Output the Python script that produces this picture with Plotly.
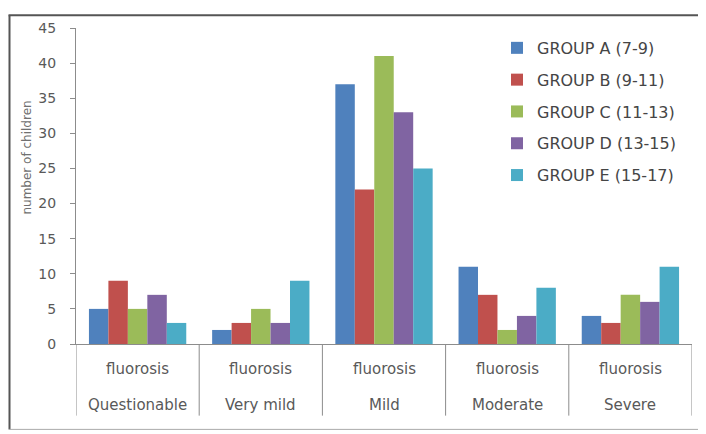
import plotly.graph_objects as go

categories = ["Questionable", "Very mild", "Mild", "Moderate", "Severe"]
top_label = "fluorosis"
series_names = ["GROUP A (7-9)", "GROUP B (9-11)", "GROUP C (11-13)", "GROUP D (13-15)", "GROUP E (15-17)"]
group_a = [5, 2, 37, 11, 4]
group_b = [9, 3, 22, 7, 3]
group_c = [5, 5, 41, 2, 7]
group_d = [7, 3, 33, 4, 6]
group_e = [3, 9, 25, 8, 11]
colors = ["#4F81BD", "#C0504D", "#9BBB59", "#8064A2", "#4BACC6"]
y_ticks = [0, 5, 10, 15, 20, 25, 30, 35, 40, 45]

# the page body has an 8px margin, so the figure is placed 8px in from the window corner
OFF = 8
W, H = 706 - OFF, 434 - OFF
PL, PR, PT, PB = 76, 692, 22, 344   # plot area in window pixels
ML, MT = PL - OFF, PT - OFF
MR = W - (PR - OFF)
MB = H - (PB - OFF)
PW = PR - PL
PH = PB - PT

def px_x(p):
    return (p - PL) / PW

def px_y(p):
    return (PB - p) / PH

FONT = "DejaVu Sans"
TXT = "#595959"
AX = "#8C8C8C"

fig = go.Figure()
for name, vals, col in zip(series_names, [group_a, group_b, group_c, group_d, group_e], colors):
    fig.add_trace(go.Bar(x=categories, y=vals, name=name, marker=dict(color=col, line=dict(width=0)),
                         legendgroup=name))

fig.update_layout(
    width=W, height=H,
    margin=dict(l=ML, r=MR, t=MT, b=MB),
    paper_bgcolor="white", plot_bgcolor="white",
    barmode="group", bargap=0.21, bargroupgap=0,
    font=dict(family=FONT, color=TXT),
    showlegend=True,
    legend=dict(x=px_x(497), xanchor="left", y=px_y(25), yanchor="top",
                font=dict(size=16, color="#454545", family=FONT),
                bgcolor="rgba(0,0,0,0)", traceorder="grouped", tracegroupgap=8),
    xaxis=dict(showticklabels=False, showline=True, linecolor=AX, linewidth=1,
               ticks="", showgrid=False, zeroline=False, range=[-0.5, 4.5]),
    yaxis=dict(range=[0, 45], tickvals=y_ticks, showline=True, linecolor=AX, linewidth=1,
               ticks="outside", ticklen=5, tickcolor=AX, showgrid=False, zeroline=False,
               tickfont=dict(size=14, color=TXT, family=FONT), ticklabelstandoff=11),
)

shapes = []
for i in range(len(categories) + 1):
    shapes.append(dict(type="line", xref="x", yref="paper", x0=i - 0.5, x1=i - 0.5,
                       y0=0, y1=px_y(417), line=dict(color=AX, width=1)))
# outer frame
shapes.append(dict(type="line", xref="paper", yref="paper", x0=px_x(9.5), x1=px_x(9.5),
                   y0=px_y(9), y1=px_y(431), line=dict(color="#555555", width=2)))
shapes.append(dict(type="line", xref="paper", yref="paper", x0=px_x(8.5), x1=px_x(706),
                   y0=px_y(9), y1=px_y(9), line=dict(color="#555555", width=2)))
shapes.append(dict(type="line", xref="paper", yref="paper", x0=px_x(9), x1=px_x(706),
                   y0=px_y(431), y1=px_y(431), line=dict(color="#AAAAAA", width=1)))
fig.update_layout(shapes=shapes)

ann = []
for c in categories:
    ann.append(dict(x=c, xref="x", y=px_y(369), yref="paper", text=top_label, showarrow=False,
                    xanchor="center", yanchor="middle", font=dict(size=15, color=TXT, family=FONT)))
    ann.append(dict(x=c, xref="x", y=px_y(406), yref="paper", text=c, showarrow=False,
                    xanchor="center", yanchor="middle", font=dict(size=15, color=TXT, family=FONT)))
ann.append(dict(x=px_x(27), xref="paper", y=px_y(154), yref="paper", text="number of children",
                textangle=-90, showarrow=False, xanchor="center", yanchor="middle",
                font=dict(size=12, color="#707070", family=FONT)))
fig.update_layout(annotations=ann)

fig.write_html("out.html")
